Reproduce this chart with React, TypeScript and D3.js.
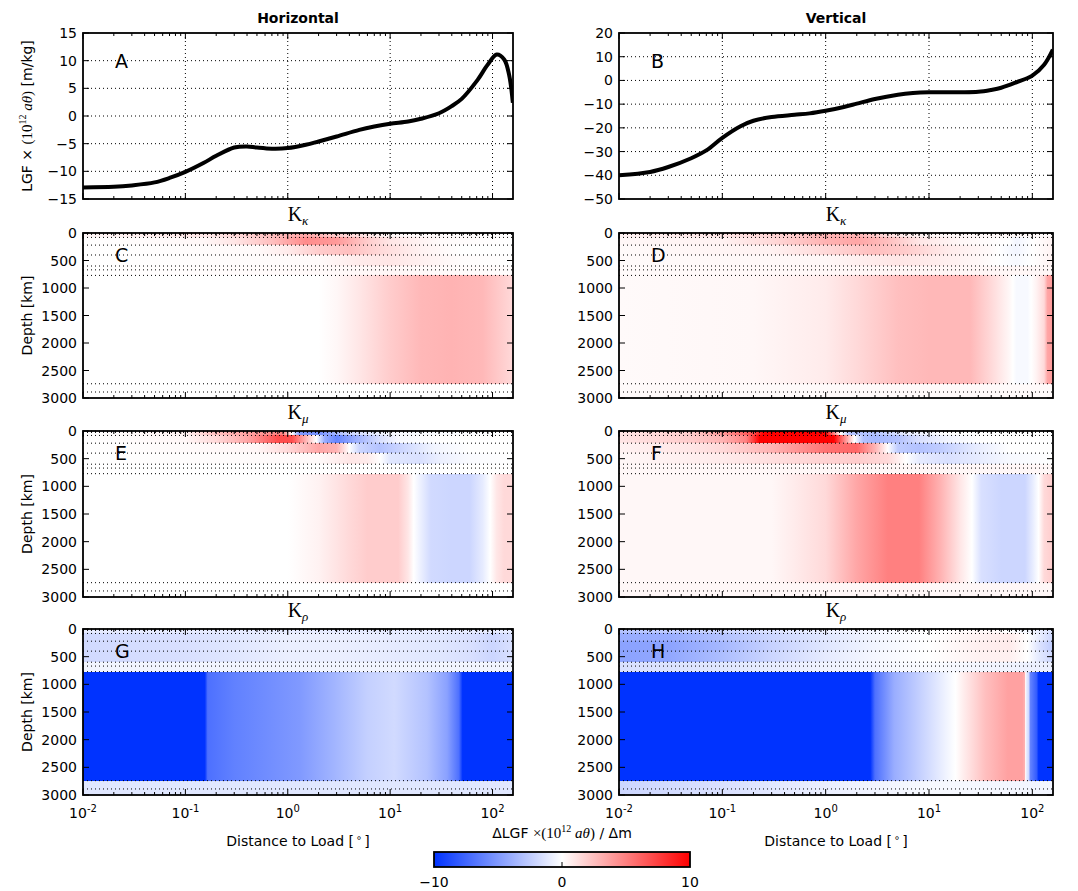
import React from "react";
import * as d3 from "d3";

// ---------- data ----------
const X_MAX = Math.pow(10, 2.2);
const X_DOMAIN: [number, number] = [0.01, X_MAX];
const X_MAJOR = [0.01, 0.1, 1, 10, 100];
const X_MAJOR_EXP = ["-2", "-1", "0", "1", "2"];

const DIST_H = [0.01, 0.02, 0.03, 0.05, 0.07, 0.1, 0.15, 0.2, 0.3, 0.4, 0.5, 0.7, 1, 1.5, 2, 3, 5, 7, 10, 15, 20, 30, 40, 50, 70, 90, 110, 130, 145, 158];
const LGF_H = [-12.9, -12.8, -12.55, -12.0, -11.2, -10.1, -8.5, -7.2, -5.7, -5.5, -5.7, -5.9, -5.8, -5.2, -4.6, -3.7, -2.5, -1.9, -1.4, -1.0, -0.5, 0.5, 1.8, 3.1, 6.3, 9.3, 11.1, 10.2, 7.5, 2.4];

const DIST_V = [0.01, 0.02, 0.03, 0.05, 0.07, 0.1, 0.15, 0.2, 0.3, 0.5, 0.7, 1, 1.5, 2, 3, 5, 7, 10, 20, 30, 40, 50, 70, 100, 130, 158];
const LGF_V = [-40, -38.6, -36.5, -32.8, -29.5, -24.2, -19.3, -17.0, -15.4, -14.5, -13.9, -12.8, -11.2, -9.8, -7.8, -6.0, -5.3, -5.0, -5.0, -4.8, -4.0, -3.1, -0.8, 2.0, 6.6, 13.0];

const Y_TICKS_H = [-15, -10, -5, 0, 5, 10, 15];
const Y_TICKS_V = [-50, -40, -30, -20, -10, 0, 10, 20];
const DEPTH_TICKS = [0, 500, 1000, 1500, 2000, 2500, 3000];
const LAYER_DEPTHS = [0, 24.4, 80, 220, 400, 600, 670, 771, 2741, 2891, 3000];
const DISCONTINUITIES = [3, 15, 24.4, 80, 220, 400, 600, 670, 771, 2741, 2891];
const CBAR_TICKS = [-10, 0, 10];

type Stops = [number, number][];

// Kernels: one list of [distance, value] per layer (LAYER_DEPTHS intervals)
const K_KAPPA_H: Stops[] = [
  [[0.01, 0.5], [0.1, 1.5], [0.5, 2.5], [1, 2.5], [2, 1], [10, 0], [158, 0]],
  [[0.01, 0.3], [0.2, 1], [0.7, 2.5], [1.5, 3.5], [3, 2], [10, 0.3], [158, 0]],
  [[0.01, 0], [0.15, 0.3], [0.3, 1], [0.7, 2.5], [1.5, 4.5], [3, 4], [6, 2], [10, 1], [30, 0.2], [158, 0]],
  [[0.01, 0], [0.5, 0.2], [1, 0.8], [2, 2], [4, 2.5], [8, 1.5], [20, 0.5], [50, 0], [158, 0]],
  [[0.01, 0], [2, 0.2], [5, 0.8], [10, 1], [20, 0.6], [50, 0.1], [158, 0]],
  [[0.01, 0], [10, 0.3], [30, 0.2], [158, 0.1]],
  [[0.01, 0], [10, 0.3], [30, 0.2], [158, 0.1]],
  [[0.01, 0], [2, 0], [3, 0.3], [5, 1], [10, 2], [20, 2.8], [40, 3], [80, 2.8], [158, 1.5]],
  [[0.01, 0], [158, 0]],
  [[0.01, 0], [158, 0]],
];
const K_KAPPA_V: Stops[] = [
  [[0.01, 2], [0.1, 2.5], [0.5, 3], [1, 2.5], [2, 1], [10, 0.2], [158, 0.2]],
  [[0.01, 0.5], [0.1, 1], [0.5, 2], [1, 3], [2, 3], [5, 1], [10, 0.3], [158, 0.2]],
  [[0.01, 0.3], [0.1, 0.5], [0.3, 1.5], [1, 3], [2, 3.5], [4, 2.5], [8, 1], [20, 0.3], [60, 0], [70, -0.5], [100, 0], [158, 0.5]],
  [[0.01, 0.2], [0.3, 0.5], [1, 1.5], [3, 2.5], [6, 2], [15, 0.8], [40, 0.2], [70, -0.5], [100, 0], [158, 0.5]],
  [[0.01, 0.2], [1, 0.3], [5, 1], [10, 0.8], [30, 0.3], [70, -0.3], [100, 0], [158, 0.5]],
  [[0.01, 0.2], [10, 0.4], [158, 0.3]],
  [[0.01, 0.2], [10, 0.4], [158, 0.3]],
  [[0.01, 0.2], [0.2, 0.3], [1, 0.8], [2, 1.5], [5, 2.5], [10, 2.8], [25, 2.8], [40, 1.5], [60, 0.3], [70, -0.3], [90, -0.3], [110, 0.5], [130, 1.5], [140, 3.5], [158, 4]],
  [[0.01, 0.2], [158, 0.2]],
  [[0.01, 0.2], [158, 0.2]],
];
const K_MU_H: Stops[] = [
  [[0.01, -0.5], [0.02, -1.5], [0.05, -1], [0.1, 0.5], [0.2, 3], [0.5, 5], [0.9, 5], [1.05, 0], [1.2, -6], [1.8, -5], [3, -1], [10, 0], [158, 0]],
  [[0.01, 0], [0.1, 0.5], [0.2, 2.5], [0.5, 4], [0.9, 5], [1.1, 0], [1.3, -5], [2, -5.5], [4, -2], [10, -0.3], [158, 0]],
  [[0.01, 0], [0.1, 0.3], [0.2, 1.5], [0.4, 3.5], [0.8, 7], [1.1, 7], [1.5, 3], [1.9, 0], [2.3, -4], [3, -6], [4.5, -4], [8, -1.5], [12, -0.3], [30, 0], [158, 0]],
  [[0.01, 0], [0.5, 0.3], [1, 1.5], [2, 3.5], [3, 3], [4, 0], [5, -2], [8, -3], [13, -2], [27, -0.5], [60, 0], [158, 0]],
  [[0.01, 0], [2, 0.2], [4, 1], [6, 0.8], [8, 0], [10, -1.2], [20, -1.5], [30, -0.8], [60, -0.2], [158, 0]],
  [[0.01, 0], [158, 0]],
  [[0.01, 0], [158, 0]],
  [[0.01, 0], [1, 0], [2, 0.5], [4, 1.5], [6, 2], [12, 2], [15, 1], [17, 0], [20, -0.8], [25, -1.8], [40, -2], [60, -2], [80, -1], [95, 0], [110, 1], [130, 1.5], [158, 1.5]],
  [[0.01, 0], [158, 0]],
  [[0.01, 0], [158, 0]],
];
const K_MU_V: Stops[] = [
  [[0.01, 1], [0.05, 2], [0.1, 4], [0.2, 7], [0.3, 10], [0.8, 10], [1, 3], [1.2, -3], [2, -3], [3, -1], [10, 0], [158, 0]],
  [[0.01, 1], [0.05, 2], [0.1, 4], [0.2, 7], [0.25, 10], [1, 10], [1.2, 5], [1.4, 0], [1.7, -3], [3, -3], [6, -1], [15, 0], [158, 0]],
  [[0.01, 1], [0.05, 2], [0.1, 3], [0.17, 5], [0.23, 10], [1.2, 10], [1.5, 5], [1.9, 0], [2.3, -3], [3, -3.5], [5, -3], [8, -1.5], [15, -0.5], [30, 0], [158, 0]],
  [[0.01, 0.5], [0.05, 1], [0.1, 1.5], [0.3, 3], [1, 5.5], [2, 6], [3, 3], [4, 0], [5, -2.5], [8, -3], [13, -2.5], [28, -1], [60, 0], [158, 0]],
  [[0.01, 0.3], [0.1, 0.8], [0.5, 1.5], [2, 2], [4, 1.5], [6, 0], [8, -1], [15, -1.5], [30, -1], [60, -0.3], [158, 0]],
  [[0.01, 0.3], [158, 0.3]],
  [[0.01, 0.3], [158, 0.3]],
  [[0.01, 0.3], [0.3, 0.3], [0.5, 0.8], [1, 1.5], [2, 3.5], [4, 5], [8, 5], [13, 3], [20, 1], [26, 0], [32, -1.5], [50, -2], [85, -2], [100, -1], [115, 0], [130, 1.5], [158, 2]],
  [[0.01, 0.3], [158, 0.3]],
  [[0.01, 0.3], [158, 0.3]],
];
const K_RHO_H: Stops[] = [
  [[0.01, -0.8], [158, -0.8]],
  [[0.01, -1], [158, -1]],
  [[0.01, -1.8], [0.1, -1.5], [0.3, -1.2], [1, -0.8], [3, -0.8], [10, -1], [30, -1.2], [60, -1.5], [100, -2], [158, -1.5]],
  [[0.01, -1.8], [0.1, -1.5], [0.3, -1.2], [1, -0.8], [3, -0.8], [10, -1], [30, -1.2], [60, -1.5], [100, -2], [158, -1.5]],
  [[0.01, -1.8], [0.1, -1.5], [0.3, -1.2], [1, -0.8], [3, -0.8], [10, -1], [30, -1.2], [60, -1.5], [100, -2], [158, -1.5]],
  [[0.01, -0.5], [158, -0.5]],
  [[0.01, -0.5], [158, -0.5]],
  [[0.01, -12], [0.155, -12], [0.165, -7], [0.3, -6.2], [1.3, -5], [2.8, -3.7], [6, -2.3], [11, -1.8], [23, -3], [36, -4.6], [47, -7], [51, -12], [158, -12]],
  [[0.01, -1.2], [158, -1.2]],
  [[0.01, -1.2], [158, -1.2]],
];
const K_RHO_V: Stops[] = [
  [[0.01, -2], [0.1, -1.5], [1, -0.5], [10, 0], [158, -1]],
  [[0.01, -3], [0.1, -2], [1, -0.8], [10, 0], [40, 0.3], [100, -0.5], [158, -1.5]],
  [[0.01, -4], [0.03, -4], [0.1, -3], [0.3, -2], [1, -1.2], [3, -0.5], [10, 0], [30, 0.5], [60, 0.8], [90, 0], [120, -1], [158, -2]],
  [[0.01, -4.5], [0.03, -4.5], [0.1, -3.5], [0.3, -2.2], [1, -1.2], [3, -0.5], [10, 0], [30, 0.6], [60, 0.8], [90, 0], [120, -1.5], [158, -2.5]],
  [[0.01, -4.5], [0.03, -4.3], [0.1, -3.2], [0.3, -2], [1, -1], [3, -0.4], [10, 0], [30, 0.5], [60, 0.6], [90, 0], [120, -1.2], [158, -2]],
  [[0.01, -1.5], [0.1, -1.2], [1, -0.6], [10, -0.2], [158, -0.8]],
  [[0.01, -1.5], [0.1, -1.2], [1, -0.6], [10, -0.2], [158, -0.8]],
  [[0.01, -12], [2.5, -12], [2.7, -10], [3, -7], [4.6, -4], [9, -2], [15, -0.5], [18, 0], [22, 0.8], [35, 2.5], [58, 3.7], [80, 3.7], [85, 3], [86, 0], [88, -1], [93, -2], [95, -6], [110, -8], [115, -12], [158, -12]],
  [[0.01, -2], [0.1, -1.5], [1, -0.8], [10, -0.3], [158, -0.5]],
  [[0.01, -2], [0.1, -1.5], [1, -0.8], [10, -0.3], [158, -0.5]],
];

// ---------- styles ----------
const SANS = "'DejaVu Sans', sans-serif";
const SERIF = "'Liberation Serif', 'DejaVu Serif', serif";
const color = d3.scaleLinear<string>().domain([-10, 0, 10]).range(["#0033ff", "#ffffff", "#ff0000"]).clamp(true);

const COLS = [{ x0: 83, x1: 513 }, { x0: 619, x1: 1053 }];
const ROWS = [{ y0: 33, y1: 199 }, { y0: 233, y1: 398 }, { y0: 431, y1: 597 }, { y0: 629, y1: 795 }];

const fmt = (v: number) => (v < 0 ? "\u2212" + Math.abs(v) : String(v));

function minorTicks(): number[] {
  const out: number[] = [];
  for (let k = -2; k <= 2; k++)
    for (let m = 2; m <= 9; m++) {
      const v = m * Math.pow(10, k);
      if (v <= X_MAX) out.push(v);
    }
  return out;
}
const X_MINOR = minorTicks();

function expand(stops: Stops): Stops {
  const out: Stops = [];
  for (let i = 0; i < stops.length; i++) {
    out.push(stops[i]);
    if (i < stops.length - 1) {
      const [d0, v0] = stops[i];
      const [d1, v1] = stops[i + 1];
      if ((v0 < 0 && v1 > 0) || (v0 > 0 && v1 < 0)) {
        const t = v0 / (v0 - v1);
        const d = Math.pow(10, Math.log10(d0) + t * (Math.log10(d1) - Math.log10(d0)));
        out.push([d, 0]);
      }
    }
  }
  return out;
}

function Frame({ x0, x1, y0, y1, x, yPos }: { x0: number; x1: number; y0: number; y1: number; x: any; yPos: number[] }) {
  return (
    <g stroke="#000" fill="none">
      {X_MAJOR.map((v, i) => (
        <g key={"M" + i}>
          <line x1={x(v)} x2={x(v)} y1={y0} y2={y0 + 6} strokeWidth={1} />
          <line x1={x(v)} x2={x(v)} y1={y1} y2={y1 - 6} strokeWidth={1} />
        </g>
      ))}
      {X_MINOR.map((v, i) => (
        <g key={"m" + i}>
          <line x1={x(v)} x2={x(v)} y1={y0} y2={y0 + 3} strokeWidth={1} />
          <line x1={x(v)} x2={x(v)} y1={y1} y2={y1 - 3} strokeWidth={1} />
        </g>
      ))}
      {yPos.map((p, i) => (
        <g key={"y" + i}>
          <line x1={x0} x2={x0 + 6} y1={p} y2={p} strokeWidth={1} />
          <line x1={x1} x2={x1 - 6} y1={p} y2={p} strokeWidth={1} />
        </g>
      ))}
      <rect x={x0} y={y0} width={x1 - x0} height={y1 - y0} strokeWidth={1.8} />
    </g>
  );
}

function LinePanel({ id, x0, x1, y0, y1, dist, vals, yDomain, yTicks, letter, title }: any) {
  const x = d3.scaleLog().domain(X_DOMAIN).range([x0, x1]);
  const y = d3.scaleLinear().domain(yDomain).range([y1, y0]);
  const pts: [number, number][] = dist.map((d: number, i: number) => [d, vals[i]]);
  const path = d3.line<[number, number]>().x((d) => x(d[0])).y((d) => y(d[1])).curve(d3.curveCatmullRom.alpha(0.5))(pts) || "";
  return (
    <g>
      <defs>
        <clipPath id={id + "-clip"}>
          <rect x={x0} y={y0} width={x1 - x0} height={y1 - y0} />
        </clipPath>
      </defs>
      <g stroke="#000" strokeWidth={1} strokeDasharray="1,3">
        {X_MAJOR.slice(1).map((v, i) => (
          <line key={i} x1={x(v)} x2={x(v)} y1={y0} y2={y1} />
        ))}
        {yTicks.slice(1, -1).map((v: number, i: number) => (
          <line key={"h" + i} x1={x0} x2={x1} y1={y(v)} y2={y(v)} />
        ))}
      </g>
      <path d={path} fill="none" stroke="#000" strokeWidth={4} strokeLinejoin="round" clipPath={`url(#${id}-clip)`} />
      <Frame x0={x0} x1={x1} y0={y0} y1={y1} x={x} yPos={yTicks.map((v: number) => y(v))} />
      {yTicks.map((v: number, i: number) => (
        <text key={i} x={x0 - 6} y={y(v) + 5} textAnchor="end" fontSize={14} fontFamily={SANS}>{fmt(v)}</text>
      ))}
      <text x={x0 + 32} y={y0 + 35} fontSize={19} fontFamily={SANS}>{letter}</text>
      <text x={(x0 + x1) / 2} y={23} textAnchor="middle" fontSize={14} fontWeight="bold" fontFamily={SANS}>{title}</text>
    </g>
  );
}

function HeatPanel({ id, x0, x1, y0, y1, layers, letter, sub, xLabels }: any) {
  const x = d3.scaleLog().domain(X_DOMAIN).range([x0, x1]);
  const y = d3.scaleLinear().domain([0, 3000]).range([y0, y1]);
  const off = (d: number) => Math.max(0, Math.min(1, (x(d) - x0) / (x1 - x0)));
  return (
    <g>
      <defs>
        {layers.map((stops: Stops, i: number) => (
          <linearGradient key={i} id={`${id}-${i}`} gradientUnits="userSpaceOnUse" x1={x0} x2={x1} y1={0} y2={0}>
            {expand(stops).map(([d, v], j) => (
              <stop key={j} offset={off(d)} stopColor={color(v)} />
            ))}
          </linearGradient>
        ))}
      </defs>
      {layers.map((_: Stops, i: number) => (
        <rect key={i} x={x0} y={y(LAYER_DEPTHS[i])} width={x1 - x0}
          height={y(LAYER_DEPTHS[i + 1]) - y(LAYER_DEPTHS[i])} fill={`url(#${id}-${i})`} shapeRendering="crispEdges" />
      ))}
      <g stroke="#000" strokeWidth={1} strokeDasharray="1,3">
        {DISCONTINUITIES.map((d, i) => (
          <line key={i} x1={x0} x2={x1} y1={y(d)} y2={y(d)} />
        ))}
      </g>
      <Frame x0={x0} x1={x1} y0={y0} y1={y1} x={x} yPos={DEPTH_TICKS.map((v) => y(v))} />
      {DEPTH_TICKS.map((v, i) => (
        <text key={i} x={x0 - 6} y={y(v) + 5} textAnchor="end" fontSize={14} fontFamily={SANS}>{v}</text>
      ))}
      <text x={x0 + 32} y={y0 + 29} fontSize={19} fontFamily={SANS}>{letter}</text>
      <text x={(x0 + x1) / 2} y={y0 - 12} textAnchor="middle" fontSize={20} fontFamily={SERIF}>
        K<tspan fontSize={13} fontStyle="italic" dy={4}>{sub}</tspan>
      </text>
      {xLabels &&
        X_MAJOR.map((v, i) => (
          <text key={"xl" + i} x={x(v)} y={818} textAnchor="middle" fontSize={14} fontFamily={SANS}>
            10<tspan fontSize={10} dy={-6}>{X_MAJOR_EXP[i]}</tspan>
          </text>
        ))}
      {xLabels && (
        <text x={(x0 + x1) / 2} y={846} textAnchor="middle" fontSize={14} fontFamily={SANS}>
          Distance to Load [<tspan fontSize={10} dy={-5}>{"\u2009\u2218\u2009"}</tspan><tspan dy={5}>]</tspan>
        </text>
      )}
    </g>
  );
}

function Colorbar() {
  const cx0 = 434, cx1 = 690, cy0 = 852, cy1 = 867;
  const s = d3.scaleLinear().domain([-10, 10]).range([cx0, cx1]);
  const vals = d3.range(-10, 10.01, 1);
  return (
    <g>
      <defs>
        <linearGradient id="cbar" gradientUnits="userSpaceOnUse" x1={cx0} x2={cx1} y1={0} y2={0}>
          {vals.map((v, i) => (
            <stop key={i} offset={(v + 10) / 20} stopColor={color(v)} />
          ))}
        </linearGradient>
      </defs>
      <rect x={cx0} y={cy0} width={cx1 - cx0} height={cy1 - cy0} fill="url(#cbar)" stroke="#000" strokeWidth={1.8} />
      <line x1={s(0)} x2={s(0)} y1={cy1} y2={cy1 - 5} stroke="#000" strokeWidth={1} />
      {CBAR_TICKS.map((v, i) => (
        <text key={i} x={s(v)} y={887} textAnchor="middle" fontSize={14} fontFamily={SANS}>{fmt(v)}</text>
      ))}
      <text x={562} y={838} textAnchor="middle" fontSize={14} fontFamily={SANS}>
        {"\u0394LGF "}
        <tspan fontFamily={SERIF} fontSize={15}>{"\u00d7(10"}</tspan>
        <tspan fontFamily={SERIF} fontSize={10} dy={-6}>12</tspan>
        <tspan fontFamily={SERIF} fontSize={15} fontStyle="italic" dy={6}>{" a\u03b8"}</tspan>
        <tspan fontFamily={SERIF} fontSize={15}>)</tspan>
        {" / \u0394m"}
      </text>
    </g>
  );
}

export default function App() {
  const L = COLS[0], R = COLS[1];
  const heat = [
    { layers: [K_KAPPA_H, K_KAPPA_V], letters: ["C", "D"], sub: "\u03ba" },
    { layers: [K_MU_H, K_MU_V], letters: ["E", "F"], sub: "\u03bc" },
    { layers: [K_RHO_H, K_RHO_V], letters: ["G", "H"], sub: "\u03c1" },
  ];
  return (
    <svg width={1078} height={891} style={{ position: "absolute", left: 0, top: 0, background: "#fff" }}>
      <rect x={0} y={0} width={1078} height={891} fill="#fff" />
      <LinePanel id="pa" {...L} y0={ROWS[0].y0} y1={ROWS[0].y1} dist={DIST_H} vals={LGF_H}
        yDomain={[-15, 15]} yTicks={Y_TICKS_H} letter="A" title="Horizontal" />
      <LinePanel id="pb" {...R} y0={ROWS[0].y0} y1={ROWS[0].y1} dist={DIST_V} vals={LGF_V}
        yDomain={[-50, 20]} yTicks={Y_TICKS_V} letter="B" title="Vertical" />
      {heat.map((h, r) =>
        [L, R].map((c, ci) => (
          <HeatPanel key={`${r}-${ci}`} id={`hp${r}${ci}`} {...c} y0={ROWS[r + 1].y0} y1={ROWS[r + 1].y1}
            layers={h.layers[ci]} letter={h.letters[ci]} sub={h.sub} xLabels={r === 2} />
        ))
      )}
      <text transform={`translate(32,${(ROWS[0].y0 + ROWS[0].y1) / 2}) rotate(-90)`} textAnchor="middle" fontSize={14} fontFamily={SANS}>
        {"LGF \u00d7 "}
        <tspan fontFamily={SERIF} fontSize={15}>(10</tspan>
        <tspan fontFamily={SERIF} fontSize={10} dy={-6}>12</tspan>
        <tspan fontFamily={SERIF} fontSize={15} fontStyle="italic" dy={6}>{" a\u03b8"}</tspan>
        <tspan fontFamily={SERIF} fontSize={15}>)</tspan>
        {" [m/kg]"}
      </text>
      {[1, 2, 3].map((r) => (
        <text key={r} transform={`translate(32,${(ROWS[r].y0 + ROWS[r].y1) / 2}) rotate(-90)`} textAnchor="middle" fontSize={14} fontFamily={SANS}>
          Depth [km]
        </text>
      ))}
      <Colorbar />
    </svg>
  );
}
